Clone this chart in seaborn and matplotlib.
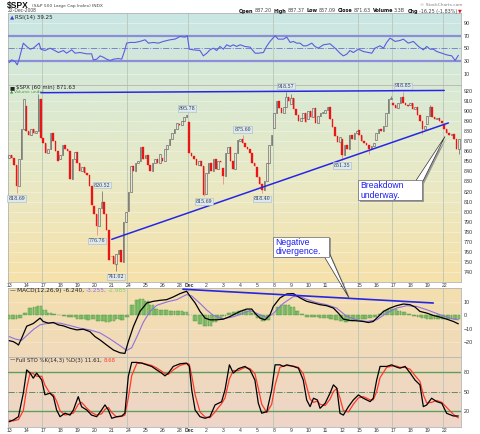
import numpy as np
import matplotlib
matplotlib.use("Agg")
import matplotlib.pyplot as plt
import seaborn as sns
from matplotlib.patches import Rectangle, Polygon
from matplotlib.colors import to_rgb

# ---------------- data ----------------
day_labels = ['13', '14', '17', '18', '19', '20', '21', '24', '25', '26', '28', 'Dec',
              '2', '3', '4', '5', '8', '9', '10', '11', '12', '15', '16', '17', '18', '19', '22']
day_bars = [7, 7, 7, 7, 7, 7, 7, 7, 7, 7, 4, 7, 7, 7, 7, 7, 7, 7, 7, 7, 7, 7, 7, 7, 7, 7, 7]
day_open = [853.13, 904.36, 873.23, 852.34, 859.03, 805.87, 755.84, 801.20, 853.40, 852.90,
            886.89, 888.61, 817.94, 843.60, 869.75, 844.43, 882.71, 906.48, 892.17, 898.35,
            871.79, 881.07, 871.53, 908.16, 905.98, 886.96, 887.20]

# hourly closes
close = [
    856, 853, 846, 826, 852, 882, 911.29,      # Nov 13
    880, 876, 882, 878, 880, 912, 873.29,      # Nov 14
    868, 858, 862, 878, 870, 860, 850.75,      # Nov 17
    856, 866, 862, 860, 832, 852, 859.12,      # Nov 18
    848, 840, 844, 838, 836, 826, 806.58,      # Nov 19
    798, 786, 804, 810, 798, 782, 752.44,      # Nov 20
    756, 748, 758, 762, 750, 790, 800.03,      # Nov 21
    820, 845, 840, 848, 850, 864, 851.81,      # Nov 24
    856, 846, 840, 848, 852, 848, 857.39,      # Nov 25
    850, 862, 866, 872, 878, 882, 887.68,      # Nov 26
    886, 890, 894, 896.24,                     # Nov 28
    858, 855, 852, 846, 850, 845, 816.21,      # Dec 1
    838, 848, 840, 852, 842, 850, 848.81,      # Dec 2
    835, 858, 864, 850, 842, 858, 870.74,      # Dec 3
    872, 868, 864, 862, 858, 848, 845.22,      # Dec 4
    834, 828, 822, 830, 848, 866, 876.07,      # Dec 5
    898, 910, 903, 898, 904, 914, 909.70,      # Dec 8
    913, 902, 896, 890, 893, 898, 888.67,      # Dec 9
    900, 894, 903, 888, 895, 898, 899.24,      # Dec 10
    901, 904, 892, 884, 875, 869, 873.59,      # Dec 11
    856, 866, 862, 876, 872, 878, 879.73,      # Dec 12
    876, 870, 868, 866, 862, 865, 868.57,      # Dec 15
    878, 882, 880, 885, 898, 912, 913.18,      # Dec 16
    906, 903, 908, 914, 908, 906, 904.42,      # Dec 17
    908, 902, 904, 896, 890, 882, 885.28,      # Dec 18
    895, 904, 894, 892, 893, 890, 887.88,      # Dec 19
    882, 878, 876, 877, 872, 862, 871.63,      # Dec 22
]

# wick extremes (bar index, price)
wick_bar = [3, 12, 36, 38, 44, 73, 80, 88, 96, 104, 114, 116, 137, 148, 157, 162, 170, 173, 185]
wick_px = [818.69, 916.88, 776.76, 820.52, 741.02, 896.25, 815.69, 827.60, 875.60, 818.41,
           918.57, 916.26, 851.35, 857.72, 914.66, 918.85, 877.44, 905.47, 857.09]

# labelled swing points
swing_bar = [3, 36, 38, 44, 73, 80, 96, 104, 114, 137, 162]
swing_px = [818.69, 776.76, 820.52, 741.02, 896.25, 815.69, 875.60, 818.41, 918.57, 851.35, 918.85]
swing_txt = ['818.69', '776.76', '820.52', '741.02', '895.78', '815.69', '875.60', '818.40',
             '918.57', '851.35', '918.85']
swing_high = [False, False, True, False, True, False, True, False, True, False, True]

# trend lines drawn on the chart
res_x, res_y = [13, 179], [918.0, 920.2]
sup_x, sup_y = [42.2, 180.7], [772.7, 888.0]
div_x, div_y = [71.5, 174.5], [19.5, 9.25]

# RSI(14)
rsi_x = [0, 1.0, 2.4, 3.3, 4.0, 5.8, 7.2, 8.6, 9.9, 12.3, 13.0, 14.7, 16.8, 18.2, 20.2, 22.3,
         23.6, 25.7, 27.1, 29.1, 31.9, 33.9, 34.6, 36.0, 37.4, 38.7, 40.1, 41.5, 42.9, 44.9,
         46.3, 47.6, 48.3, 49.7, 51.8, 53.8, 55.9, 57.3, 59.3, 61.4, 63.4, 66.2, 68.2, 70.3,
         72.3, 73.3, 74.1, 75.8, 78.5, 79.9, 81.3, 82.6, 84.0, 85.4, 86.7, 88.1, 89.5, 90.9,
         92.2, 93.6, 95.0, 97.0, 99.1, 101.2, 102.5, 104.6, 105.9, 107.3, 109.4, 110.7, 112.8,
         114.2, 115.6, 116.9, 118.3, 119.7, 121.0, 122.4, 124.5, 125.8, 127.2, 129.3, 132.0,
         134.1, 136.1, 137.5, 138.9, 140.2, 141.6, 143.7, 145.7, 147.8, 149.2, 150.5, 152.6,
         154.0, 155.3, 156.7, 158.8, 160.8, 162.2, 164.2, 166.3, 168.4, 170.4, 171.8, 173.2,
         174.5, 175.9, 178.0, 180.0, 182.1, 183.5, 184.8]
rsi_v = [27.9, 32.1, 29.5, 24.2, 32.1, 58.4, 53.2, 48.9, 50.5, 58.4, 48.9, 46.8, 50.5, 47.9,
         43.7, 46.8, 42.6, 47.9, 42.6, 43.7, 41.6, 41.6, 32.1, 33.2, 38.4, 36.3, 33.2, 31.1,
         33.2, 34.2, 33.2, 47.9, 58.4, 59.5, 59.5, 61.1, 63.7, 58.4, 59.5, 58.4, 61.1, 63.7,
         64.7, 68.9, 67.9, 70.0, 48.9, 47.9, 46.8, 38.4, 42.6, 47.9, 50.5, 46.8, 53.2, 48.9,
         55.8, 53.2, 55.8, 53.2, 55.8, 53.2, 52.1, 42.6, 42.6, 43.7, 53.2, 61.1, 70.0, 64.7,
         64.7, 67.9, 59.5, 61.1, 58.4, 58.4, 54.2, 54.2, 58.4, 53.2, 50.5, 55.8, 57.4, 50.5,
         42.6, 38.4, 41.1, 46.8, 43.7, 48.9, 45.3, 43.7, 42.6, 50.5, 54.2, 50.5, 59.5, 66.3,
         61.1, 62.6, 64.7, 58.4, 61.1, 53.2, 47.9, 53.2, 48.9, 48.9, 45.3, 42.6, 40.0, 38.4,
         31.1, 39.25]

# MACD(12,26,9)
macd_x = [0, 1.7, 3.1, 3.8, 5.1, 7.2, 9.9, 12.0, 12.7, 14.0, 16.1, 18.2, 20.2, 22.3, 25.0,
          27.8, 30.5, 33.2, 35.3, 37.4, 40.1, 42.9, 45.6, 47.6, 49.0, 51.1, 53.8, 56.6, 59.3,
          62.1, 64.8, 67.5, 70.3, 73.0, 74.4, 76.5, 78.5, 80.6, 82.6, 85.4, 88.1, 90.9, 93.6,
          95.0, 97.7, 99.8, 101.1, 103.2, 105.3, 107.3, 108.7, 111.4, 114.2, 116.9, 119.7,
          122.4, 125.2, 127.9, 130.6, 133.4, 135.4, 137.5, 140.2, 143.0, 145.7, 147.8, 149.8,
          151.9, 154.0, 156.7, 159.4, 162.2, 164.9, 167.0, 169.0, 171.8, 174.5, 177.3, 180.0,
          182.8, 184.8]
macd_v = [-18.75, -19.5, -21, -22, -17, -8, -6, -3, -2, -4.5, -5.75, -5.25, -7, -7.75, -9.5,
          -10.75, -10.25, -12, -15.75, -18.25, -22, -25.75, -27.75, -28.25, -19.5, -8.25, 3,
          9.25, 10.5, 11.25, 11.75, 13.75, 16.25, 18, 14.25, 9.25, 3, -2, -3.25, -3.25, -2.75,
          -0.75, 1.75,
          3, 4.75, 4.75, 1.75, -2, -3.25, 0.5, 6.75, 13, 16, 16.25, 13, 10.5, 9.25, 8, 7.25,
          5.5, 1.75, -2.75, -3.75, -4, -4.5, -5.25, -4.5, -0.75, 3, 5.5, 7.25, 8.5, 8, 6.25,
          3, 1.75, 0, -1.25, -2.75, -4.5, -6.24]
sig_x = [0, 2.4, 5.1, 7.2, 9.9, 12.7, 16.8, 20.9, 25.0, 29.1, 33.2, 37.4, 41.5, 45.6, 48.3,
         50.4, 52.5, 55.2, 57.9, 60.7, 64.8, 68.9, 73.0, 75.1, 78.5, 81.3, 84.0, 88.1, 92.2,
         95.0, 99.1, 103.2, 106.0, 108.7, 112.8, 116.9, 119.7, 122.4, 126.5, 130.6, 134.7,
         138.9, 143.0, 147.1, 151.2, 155.3, 159.4, 163.6, 167.6, 171.8, 177.3, 182.8, 184.8]
sig_v = [-15.75, -17.5, -18.5, -15, -10.5, -7, -5.5, -5.75, -7.5, -9.5, -10.75, -13, -17.5,
         -22.5, -26, -24, -16, -5, 3, 7.5, 10, 11.75, 15.5, 14.5, 9, 4, 0, -2.5, -1, 0.75,
         3.75, 0.5, -1.5, 1.5, 9, 14, 14, 12, 9.5, 8, 5.5, -0.75, -3.25, -4.5, -3.25, 1.75,
         5.5, 7.25, 6.75, 4.25, 0.5, -2.75, -3.255]
# histogram, one value every second bar
macd_hist = [-3, -3, -2, 2, 5.5, 6.5, 7, 4, 2, 1, 0, -0.5, -1, -1.5, -2.5, -3, -3.5, -3, -4,
             -4.5, -5, -4, -3, -3.5, -1, 8, 11.5, 12, 10.5, 8, 5, 4, 4, 3.5, 3, 3, 2.5, 0, -4,
             -6, -7.5, -8, -5, -3, -0.5, 1.5, 2.5, 3, 4, 3.5, 2, -2, -4.5, -3.5, 0, 6, 8, 8, 6,
             3, 1, -1, -1.5, -1.5, -2, -2, -2.5, -3.5, -4.5, -5, -4.5, -3.5, -3, -3, -2, -1, 1,
             3, 4.5, 4.5, 3.5, 2.5, 1, -0.5, -1, -2, -2.5, -2.5, -2.5, -2.5, -3, -3, -3]

# Full STO %K(14,3) %D(3)
sto_x = [0, 1.7, 3.8, 5.8, 7.2, 8.6, 9.9, 11.3, 13.4, 14.7, 16.8, 18.2, 19.5, 20.9, 23.0,
         25.0, 26.4, 28.4, 29.8, 31.9, 33.9, 36.0, 38.0, 39.4, 40.8, 42.2, 44.2, 46.3, 47.6,
         49.0, 50.4, 52.5, 54.5, 56.6, 58.6, 60.7, 62.7, 64.1, 65.5, 67.5, 70.3, 73.0, 74.1,
         75.1, 76.5, 78.5, 80.6, 82.6, 84.7, 86.1, 87.4, 88.8, 90.6, 92.2, 94.3,
         97.0, 99.1, 101.1, 102.5, 103.9, 106.0, 108.0, 109.4, 111.4, 112.8, 114.2, 116.9,
         119.0, 121.0, 122.4, 123.8, 125.2, 126.8, 127.9, 130.0, 132.0, 133.4, 134.8, 136.1,
         137.5, 139.6, 141.6, 143.7, 145.7, 148.5, 149.8, 151.2, 152.6, 155.3, 157.4, 159.4,
         160.8, 162.9, 165.0, 167.0, 169.0, 170.4, 171.8, 173.8, 175.9, 178.0, 180.0, 182.8,
         184.8]
sto_k = [2.6, 5.3, 10.5, 47.4, 84, 79, 71, 79, 68, 45, 47.4, 42, 21, 10.5, 16, 13, 21, 42, 26,
         21, 13, 10.5, 21, 29, 21, 8, 10.5, 11.6, 16, 73.7, 95.8, 95.8, 94.7, 92, 89.5, 84, 79,
         74.7, 79, 89.5, 93.7, 94.7, 89.5, 52.6, 21, 10.5, 8, 10.5, 29, 31.6, 34, 52.6, 92, 79,
         86,
         89.5, 84, 68, 31.6, 16, 18.4, 52.6, 92, 92, 89.5, 92, 89.5, 86.8, 68, 36.8, 26.3,
         39.5, 36.8, 23.7, 31.6, 47.4, 60.5, 55.3, 15.8, 13, 26.3, 36.8, 44.7, 39.5, 34.2,
         39.5, 68, 89.5, 89.5, 92, 88.4, 86.8, 89.5, 79, 68, 60.5, 26.3, 29, 39.5, 34.2, 31.6,
         15.8, 11.6, 11.61]
sto_d = [5, 4, 6, 20, 55, 80, 78, 74, 74, 60, 47, 45, 35, 20, 13, 15, 16, 30, 33, 24, 17, 13,
         15, 22, 25, 17, 10, 11, 13, 40, 75, 94, 95, 93, 91, 87, 82, 78, 77, 84, 91, 94, 93,
         75, 45, 18, 10, 9, 18, 25, 31, 40, 70, 83, 83,
         88, 86, 78, 55, 30, 17, 30, 60, 88, 90, 91, 90, 88, 78, 58, 38, 33, 35, 30, 28, 38,
         50, 55, 40, 20, 18, 30, 40, 42, 37, 37, 50, 72, 88, 90, 90, 88, 88, 85, 75, 66, 45,
         32, 33, 36, 33, 25, 14, 8.68]

# ---------------- figure ----------------
sns.set_theme(style="white")
plt.rcParams['font.family'] = ['DejaVu Sans']
plt.rcParams['axes.linewidth'] = 0.6

W, H = 480, 434
fig = plt.figure(figsize=(4.8, 4.34), dpi=100)
fig.patch.set_facecolor('white')
renderer = fig.canvas.get_renderer()


def rect(l, t, r, b):
    return [l / W, 1 - b / H, (r - l) / W, (b - t) / H]


def fxy(x, y):
    return (x / W, 1 - y / H)


ax_rsi = fig.add_axes(rect(8, 13, 461, 85))
ax_px = fig.add_axes(rect(8, 85, 461, 282))
ax_macd = fig.add_axes(rect(8, 288, 461, 357))
ax_sto = fig.add_axes(rect(8, 357, 461, 427))
axes = [ax_rsi, ax_px, ax_macd, ax_sto]
tops = [(13, 85), (85, 282), (288, 357), (357, 427)]

stop_y = [13, 85, 180, 282, 288, 357, 427]
stop_c = np.array([to_rgb(c) for c in ['#c9e6e5', '#d8e9d4', '#e9e9c5', '#f6e1aa',
                                       '#f4dfae', '#f0dabb', '#eed5c9']])
for ax, (t, b) in zip(axes, tops):
    ys = np.linspace(t, b, 120)
    img = np.stack([np.interp(ys, stop_y, stop_c[:, k]) for k in range(3)], axis=-1)[:, None, :]
    ax.imshow(img, extent=[0, 1, 0, 1], transform=ax.transAxes, aspect='auto',
              zorder=-5, interpolation='bilinear')
    for s in ax.spines.values():
        s.set_color('#b4b4b4')
        s.set_linewidth(0.6)

nb = len(close)
XL = (-0.5, 185.9)
starts = np.cumsum([0] + day_bars[:-1])
mondays = [starts[i] for i, l in enumerate(day_labels) if l in ('17', '24', 'Dec', '8', '15', '22')]

# ---------------- candles ----------------
opens = []
k = 0
for d, n in enumerate(day_bars):
    for j in range(n):
        opens.append(day_open[d] if j == 0 else close[k - 1])
        k += 1
opens = np.array(opens)
cl = np.array(close, dtype=float)
hi = np.maximum(opens, cl)
lo = np.minimum(opens, cl)
for b, p in zip(wick_bar, wick_px):
    hi[b] = max(hi[b], p)
    lo[b] = min(lo[b], p)
xs = np.arange(nb)
down = cl < opens
up = ~down

for i in xs:
    ax_px.plot([i, i], [lo[i], hi[i]], color='#f07878' if down[i] else '#666666',
               lw=0.5, zorder=3, solid_capstyle='butt')
body_h = np.maximum(np.abs(cl - opens), 0.5)
ax_px.bar(xs[down], body_h[down], bottom=np.minimum(cl, opens)[down], width=0.64,
          color='#ea1515', edgecolor='#ea1515', linewidth=0.25, zorder=4)
ax_px.bar(xs[up], body_h[up], bottom=np.minimum(cl, opens)[up], width=0.64,
          color='#e6e4d4', edgecolor='#555555', linewidth=0.4, zorder=4)

ax_px.plot(res_x, res_y, color='#2626e6', lw=1.1, zorder=6)
ax_px.plot(sup_x, sup_y, color='#2626e6', lw=1.1, zorder=6)

for b, p, t, h in zip(swing_bar, swing_px, swing_txt, swing_high):
    ax_px.annotate(t, xy=(b, p), xytext=(0, 4.3 if h else -4.0), textcoords='offset points',
                   ha='center', va='center', fontsize=3.4, family='DejaVu Serif',
                   color='#223344', zorder=7,
                   bbox=dict(boxstyle='square,pad=0.15', fc='#dde9ef', ec='#a8b8c4', lw=0.4))

for v in range(740, 921, 10):
    ax_px.axhline(v, color='white', alpha=0.45, lw=0.5, zorder=1)
ax_px.set_ylim(730.4, 925.6)
ax_px.set_yticks(list(range(740, 921, 10)))

# ---------------- RSI ----------------
sns.lineplot(x=rsi_x, y=rsi_v, ax=ax_rsi, color='#5c5ce0', lw=0.8, zorder=5)
for v in (70, 30):
    ax_rsi.axhline(v, color='#8c8cd8', lw=1.6, zorder=3)
ax_rsi.axhline(50, color='#8080d0', lw=0.7, ls='-.', zorder=3)
for v in (10, 90):
    ax_rsi.axhline(v, color='white', alpha=0.5, lw=0.5, zorder=1)
ax_rsi.set_ylim(-7.4, 105.8)
ax_rsi.set_yticks([10, 30, 50, 70, 90])

# ---------------- MACD ----------------
hx = np.arange(len(macd_hist)) * 2
bx = np.concatenate([hx, hx + 1])
bh = np.concatenate([macd_hist, macd_hist])
keep = bx < nb
ax_macd.bar(bx[keep], bh[keep], width=0.8, color='#8cc870', edgecolor='#4d9040',
            linewidth=0.3, zorder=3)
sns.lineplot(x=sig_x, y=sig_v, ax=ax_macd, color='#9070e0', lw=0.8, zorder=4)
sns.lineplot(x=macd_x, y=macd_v, ax=ax_macd, color='black', lw=0.9, zorder=5)
ax_macd.plot(div_x, div_y, color='#2626e6', lw=1.2, zorder=6)
for v in (10, 0, -10, -20):
    ax_macd.axhline(v, color='white', alpha=0.35, lw=0.5, zorder=1)
ax_macd.set_ylim(-30.9, 20.4)
ax_macd.set_yticks([-20, -10, 0, 10])

# ---------------- Full STO ----------------
for v in (80, 20):
    ax_sto.axhline(v, color='#5e9e5e', lw=1.0, zorder=3)
ax_sto.axhline(50, color='#5e8e5e', lw=0.7, ls='-.', zorder=3)
sns.lineplot(x=sto_x, y=sto_d, ax=ax_sto, color='#ff3a2a', lw=0.9, zorder=4)
sns.lineplot(x=sto_x, y=sto_k, ax=ax_sto, color='black', lw=0.9, zorder=5)
ax_sto.set_ylim(-5.7, 104.3)
ax_sto.set_yticks([20, 50, 80])

# ---------------- axes styling ----------------
for ax in axes:
    ax.set_xlim(*XL)
    for m in mondays:
        ax.axvline(m - 0.5, color='#b9c6b6', lw=0.6, zorder=1)
    ax.yaxis.tick_right()
    ax.tick_params(axis='y', which='both', right=False, left=False, labelright=True,
                   labelleft=False, length=0, pad=2, labelsize=3.9, colors='#333333')
    for lab in ax.get_yticklabels():
        lab.set_family('Liberation Sans')
    ax.set_xlabel('')
    ax.set_ylabel('')
    ax.grid(False)
    ax.set_xticks([])

for ax in (ax_px, ax_sto):
    ax.set_xticks(starts)
    ax.set_xticklabels(day_labels)
    ax.tick_params(axis='x', length=0, pad=0.9, labelsize=3.7, colors='#333333')
    for lab in ax.get_xticklabels():
        lab.set_family('Liberation Sans')
        if lab.get_text() == 'Dec':
            lab.set_fontweight('bold')


# ---------------- texts ----------------
def place_runs(x0, y, parts, width=None, size=4.3, ha='left', family='DejaVu Sans'):
    def build(sz):
        arts, cur = [], x0
        for s, kw, gap in parts:
            t = fig.text(cur / W, 1 - y / H, s, va='center', ha='left', fontsize=sz,
                         family=family, **kw)
            w = t.get_window_extent(renderer).width
            arts.append(t)
            cur += w + gap * sz / size
        return arts, cur - x0
    arts, tot = build(size)
    if width is not None:
        for a in arts:
            a.remove()
        arts, tot = build(size * width / tot)
    if ha == 'right':
        for a in arts:
            px, py = a.get_position()
            a.set_position((px - tot / W, py))
    return arts


B = {'fontweight': 'bold', 'color': '#111111'}
N = {'color': '#444444'}
place_runs(7, 5.5, [('$SPX', {'fontweight': 'bold', 'color': '#111111'}, 0)], width=22,
           size=6.3, family='Liberation Sans')
place_runs(31.7, 5.5, [('(S&P 500 Large Cap Index) INDX', {'color': '#444444'}, 0)], width=71.6)
place_runs(7.3, 11, [('22-Dec-2008', {'color': '#444444'}, 0)], width=29.4)
place_runs(462, 5, [('© StockCharts.com', {'color': '#808080'}, 0)], width=44, ha='right')
place_runs(462, 11, [('Open', B, 1.2), ('887.20', N, 2.6), ('High', B, 1.2), ('887.37', N, 2.6),
                     ('Low', B, 1.2), ('857.09', N, 2.6), ('Close', B, 1.2), ('871.63', N, 2.6),
                     ('Volume', B, 1.2), ('3.3B', N, 2.6), ('Chg', B, 1.2),
                     ('-16.25 (-1.83%)', N, 1.5), ('▼', {'color': '#dd1111'}, 0)],
           width=223, ha='right')

place_runs(10, 17.3, [('▲', {'color': '#3a3ad0'}, 1.0), ('RSI(14) 39.25', {'color': '#222222'}, 0)],
           width=43)
place_runs(10, 87.5, [('■', {'color': '#222222'}, 1.0),
                      ('$SPX (60 min) 871.63', {'color': '#222222'}, 0)], width=65)
place_runs(10, 92.2, [('▲', {'color': '#3c9a3c'}, 1.0), ('Volume undef', {'color': '#3c9a3c'}, 0)],
           width=34)
place_runs(10, 290.7, [('—', {'color': '#111111'}, 1.0),
                       ('MACD(12,26,9) -6.240,', {'color': '#222222'}, 1.6),
                       ('-3.255,', {'color': '#8a6ee0'}, 1.6),
                       ('-2.985', {'color': '#8cc870'}, 0)], width=118)
place_runs(10, 360.3, [('—', {'color': '#111111'}, 1.0),
                       ('Full STO %K(14,3) %D(3) 11.61,', {'color': '#222222'}, 1.6),
                       ('8.68', {'color': '#ff3a2a'}, 0)], width=107)


# ---------------- callouts ----------------
def callout(box, base, tip, lines, line_y):
    l, t, r, b = box
    sh = 1.6
    fig.add_artist(Polygon([fxy(base[0][0] + sh, base[0][1] + sh), fxy(base[1][0] + sh, base[1][1] + sh),
                            fxy(tip[0] + sh, tip[1] + sh)], closed=True, transform=fig.transFigure,
                           fc='#9a9a9a', ec='none', zorder=20))
    fig.add_artist(Rectangle(fxy(l + sh, b + sh), (r - l) / W, (b - t) / H, transform=fig.transFigure,
                             fc='#9a9a9a', ec='none', zorder=20))
    fig.add_artist(Polygon([fxy(*base[0]), fxy(*base[1]), fxy(*tip)], closed=True,
                           transform=fig.transFigure, fc='white', ec='#333333', lw=0.5, zorder=21))
    fig.add_artist(Rectangle(fxy(l, b), (r - l) / W, (b - t) / H, transform=fig.transFigure,
                             fc='white', ec='#666666', lw=0.5, zorder=22))
    for s, yy in zip(lines, line_y):
        fig.text((l + 2.2) / W, 1 - yy / H, s, ha='left', va='center', fontsize=6.2,
                 family='Liberation Sans', color='#1c1cf0', zorder=23)


callout((358, 180, 422, 200), [(416, 180.5), (421.5, 184)], (445, 136.5),
        ['Breakdown', 'underway.'], [185.8, 195.3])
callout((273.3, 236.7, 329.3, 256.7), [(324, 256.2), (328.8, 252)], (349, 298),
        ['Negative', 'divergence.'], [242.3, 251.8])

fig.savefig('out.png', dpi=100)
